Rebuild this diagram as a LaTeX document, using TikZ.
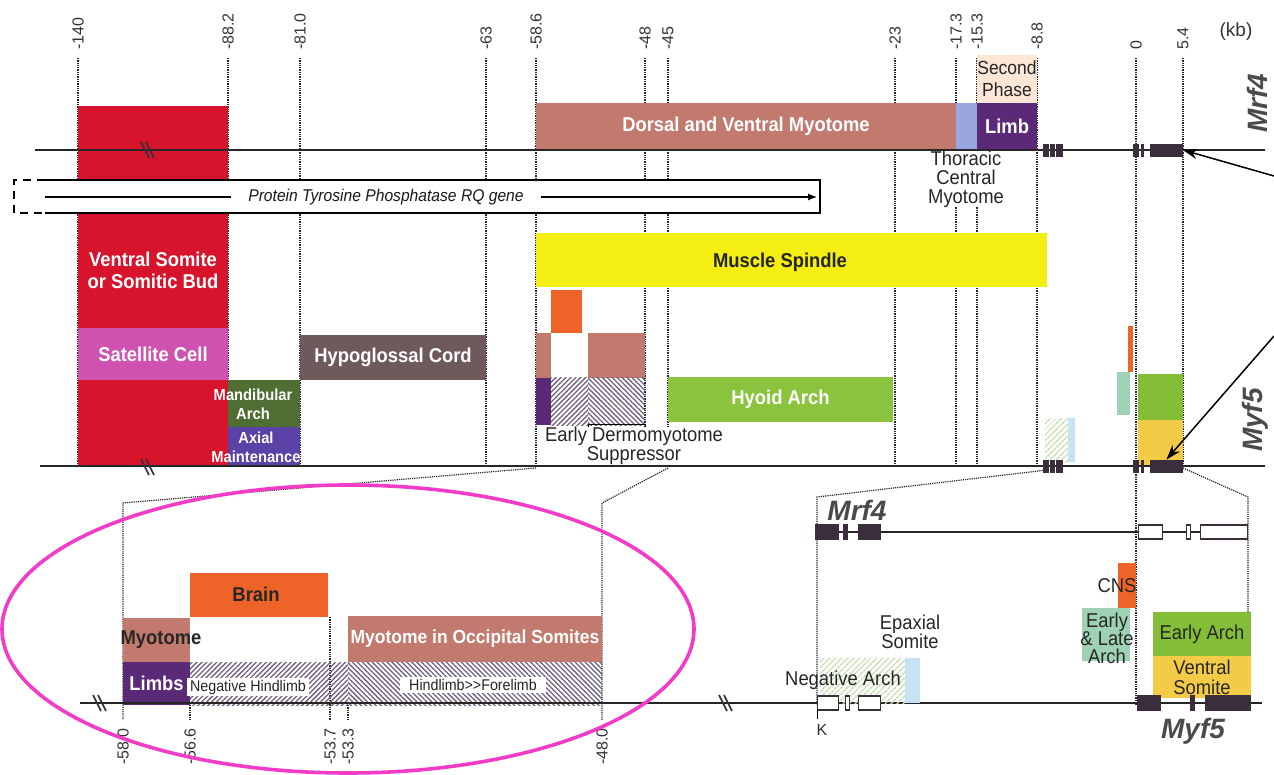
\documentclass[tikz,border=0pt]{standalone}
\usepackage{fontspec}
\setmainfont{Liberation Sans}
\newfontfamily\narrowfont[FakeStretch=0.92]{Liberation Sans}
\usetikzlibrary{arrows.meta, patterns.meta}

\definecolor{somred}{HTML}{D8142C}
\definecolor{satpink}{HTML}{D052B0}
\definecolor{mandgreen}{HTML}{4F6E33}
\definecolor{axblue}{HTML}{5A42A6}
\definecolor{hypogray}{HTML}{6E5A5A}
\definecolor{myobrown}{HTML}{C27A6E}
\definecolor{thorblue}{HTML}{9AA6E0}
\definecolor{limbpurple}{HTML}{5A2A78}
\definecolor{peach}{HTML}{FCE7D6}
\definecolor{spindle}{HTML}{F5EE12}
\definecolor{brainorange}{HTML}{EE6428}
\definecolor{hyoidgreen}{HTML}{8AC43E}
\definecolor{archteal}{HTML}{9FD2B4}
\definecolor{archgreen}{HTML}{84BE36}
\definecolor{ventyellow}{HTML}{F4CB46}
\definecolor{hatchgray}{HTML}{6E607C}
\definecolor{palegreen}{HTML}{BFE0A8}
\definecolor{paleblue}{HTML}{C6E3F4}
\definecolor{exondark}{HTML}{3A2E3C}
\definecolor{genegray}{HTML}{4A4A4A}
\definecolor{ringpink}{HTML}{F23CC8}

\tikzset{
  band/.style={inner sep=0pt, outer sep=0pt, anchor=north west, text=white, align=center,
    font=\narrowfont\bfseries\fontsize{20}{22}\selectfont},
  smallband/.style={inner sep=0pt, text=white, align=center,
    font=\narrowfont\bfseries\fontsize{16}{19}\selectfont},
  darkband/.style={inner sep=0pt, text=black!85, align=center,
    font=\narrowfont\bfseries\fontsize{20}{22}\selectfont},
  note/.style={inner sep=1pt, align=center, text=black!85,
    font=\narrowfont\fontsize{20}{19}\selectfont},
  tag/.style={fill=white, inner xsep=3pt, inner ysep=2pt, text=black!85,
    font=\narrowfont\fontsize{15.5}{16}\selectfont},
  kbmark/.style={rotate=90, inner sep=0pt, text=black!80, font=\fontsize{16}{16}\selectfont},
  kbline/.style={densely dotted, line width=1.3pt, black!85},
  zoomline/.style={densely dotted, line width=1.2pt, black!85},
  dna/.style={line width=1.6pt, black!85},
  exon/.style={fill=exondark, draw=exondark, line width=0.8pt, inner sep=0pt, anchor=west, minimum height=12pt},
  openexon/.style={fill=white, draw=exondark, line width=1.2pt, inner sep=0pt, anchor=west, minimum height=14pt},
  hatchne/.style={pattern={Lines[angle=45,distance=3.5pt,line width=1.3pt]}, pattern color=hatchgray},
  hatchnw/.style={pattern={Lines[angle=-45,distance=3.5pt,line width=1.3pt]}, pattern color=hatchgray},
  hatchpale/.style={pattern={Lines[angle=45,distance=4pt,line width=1.4pt]}, pattern color=palegreen},
  genename/.style={text=genegray, inner sep=0pt, font=\bfseries\itshape\fontsize{28}{28}\selectfont}
}

\newcommand{\breakmark}[2]{%
  \draw[line width=1.6pt, exondark] (#1-5,#2-8) -- (#1+3,#2+8);
  \draw[line width=1.6pt, exondark] (#1,#2-8) -- (#1+8,#2+8);}

\begin{document}
\begin{tikzpicture}[x=1pt, y=-1pt]
  \useasboundingbox (0,0) rectangle (1274,775);
  \fill[white] (0,0) rectangle (1274,775);

  % kb scale
  \foreach \xx/\kb in {78/-140, 228/-88.2, 300/-81.0, 486/-63, 536/-58.6, 645/-48, 668/-45, 895/-23, 956/-17.3, 977/-15.3, 1037/-8.8, 1183/5.4}{
    \node[kbmark, anchor=west] (top\xx) at (\xx,50) {\kb};
    \draw[kbline] (\xx,58) -- (\xx,467);
  }
  \node[kbmark, anchor=west] (top0) at (1136,50) {0};
  \draw[kbline] (1136,58) -- (1136,705);
  \node[text=black!80, font=\fontsize{19}{19}\selectfont] (kbunit) at (1236,32) {(kb)};

  % enhancer blocks, upstream half
  \node[band, fill=somred, minimum width=150pt, minimum height=74pt] (redtop) at (78,106) {};
  \node[band, fill=somred, minimum width=150pt, minimum height=115pt] (ventsom) at (78,213) {Ventral Somite\\or Somitic Bud};
  \node[band, fill=satpink, minimum width=150pt, minimum height=52pt] (satcell) at (78,328) {Satellite Cell};
  \node[band, fill=somred, minimum width=150pt, minimum height=87pt] (redlow) at (78,380) {};
  \node[band, fill=mandgreen, minimum width=72pt, minimum height=47pt] (mandbox) at (228,380) {};
  \node[band, fill=axblue, minimum width=72pt, minimum height=40pt] (axbox) at (228,427) {};
  \node[smallband] (mandtxt) at (253,404) {Mandibular\\Arch};
  \node[smallband] (axtxt) at (256,447) {Axial\\Maintenance};
  \node[band, fill=hypogray, minimum width=186pt, minimum height=45pt] (hypo) at (300,335) {Hypoglossal Cord};

  \node[band, fill=myobrown, minimum width=420pt, minimum height=47pt] (dvmyo) at (536,103) {Dorsal and Ventral Myotome};
  \node[band, fill=thorblue, minimum width=21pt, minimum height=47pt] (thorbox) at (956,103) {};
  \node[band, fill=limbpurple, minimum width=60pt, minimum height=47pt] (limb) at (977,103) {Limb};
  \node[band, fill=peach, text=black!85, font=\narrowfont\fontsize{19}{22}\selectfont, minimum width=60pt, minimum height=48pt] (second) at (977,55) {Second\\Phase};
  \node[note, fill=white, inner sep=0pt] (thoracic) at (966,179) {Thoracic\\Central\\Myotome};

  \node[band, fill=spindle, minimum width=511pt, minimum height=54pt] (spindlebox) at (536,233) {};
  \node[darkband] (spindletxt) at (780,262) {Muscle Spindle};
  \node[band, fill=brainorange, minimum width=31pt, minimum height=43pt] (orsq) at (551,290) {};
  \node[band, fill=myobrown, minimum width=15pt, minimum height=45pt] (brsqa) at (536,333) {};
  \node[band, fill=myobrown, minimum width=57pt, minimum height=45pt] (brsqb) at (588,333) {};
  \node[band, fill=limbpurple, minimum width=15pt, minimum height=47pt] (pusq) at (536,378) {};
  \fill[hatchne] (551,378) rectangle (588,425);
  \fill[hatchnw] (588,378) rectangle (645,425);
  \draw[line width=1pt] (588,432) -- (588,424) -- (645,424) -- (645,432);
  \draw[line width=1pt] (588,452) -- (588,467);
  \node[note, fill=white, inner sep=0pt] (edsupp) at (634,446) {Early Dermomyotome\\Suppressor};
  \node[band, fill=hyoidgreen, minimum width=225pt, minimum height=45pt] (hyoid) at (668,377) {Hyoid Arch};

  \fill[hatchpale] (1045,418) rectangle (1068,462);
  \fill[paleblue] (1068,418) rectangle (1075,462);
  \fill[brainorange] (1128,326) rectangle (1133,372);
  \fill[archteal] (1117,372) rectangle (1130,415);
  \node[band, fill=archgreen, minimum width=45pt, minimum height=46pt] (earlyup) at (1138,374) {};
  \node[band, fill=ventyellow, minimum width=45pt, minimum height=45pt] (ventup) at (1138,420) {};

  % Protein Tyrosine Phosphatase RQ gene
  \fill[white] (14,180) rectangle (820,213);
  \draw[line width=1.3pt] (45,180) -- (820,180) -- (820,213) -- (45,213);
  \draw[line width=1.3pt, dash pattern=on 8pt off 6pt] (45,180) -- (14,180) -- (14,213) -- (45,213);
  \node[inner xsep=17pt, text=black!90, font=\narrowfont\itshape\fontsize{17}{17}\selectfont] (ptp) at (386,197) {Protein Tyrosine Phosphatase RQ gene};
  \draw[line width=1.2pt] (45,197) -- (ptp.west);
  \draw[line width=1.2pt, -{Latex[length=9pt,width=7pt]}] (ptp.east) -- (817,197);

  % Mrf4 / Myf5 locus
  \draw[dna] (35,150) -- (1265,150);
  \draw[dna] (40,466) -- (1265,466);
  \breakmark{146}{150}
  \breakmark{146}{467}
  \node[exon, minimum width=5pt] (mrfc1) at (1043,150) {};
  \node[exon, minimum width=4pt] (mrfc2) at (1050,150) {};
  \node[exon, minimum width=6pt] (mrfc3) at (1056,150) {};
  \node[exon, minimum width=5pt] (mrfsm) at (1133,150) {};
  \node[exon, minimum width=2pt] (mrftk) at (1141,150) {};
  \node[exon, minimum width=32pt] (mrfbig) at (1150,150) {};
  \node[exon, minimum width=5pt] (myfc1) at (1043,466) {};
  \node[exon, minimum width=4pt] (myfc2) at (1050,466) {};
  \node[exon, minimum width=6pt] (myfc3) at (1056,466) {};
  \node[exon, minimum width=5pt] (myfsm) at (1133,466) {};
  \node[exon, minimum width=2pt] (myftk) at (1141,466) {};
  \node[exon, minimum width=32pt] (myfbig) at (1150,466) {};
  \node[genename, rotate=90, anchor=south] (mrfside) at (1268,103) {Mrf4};
  \node[genename, rotate=90, anchor=south] (myfside) at (1268,420) {Myf5};
  \coordinate (ptra) at (1274,176);
  \coordinate (ptrb) at (1274,336);
  \draw[line width=1.5pt, -{Stealth[length=15pt,width=10pt]}] (ptra) -- (mrfbig.east);
  \draw[line width=1.5pt, -{Stealth[length=15pt,width=10pt]}] (ptrb) -- (myfbig.north);

  % zoomed regions
  \coordinate (zla) at (536,468);
  \coordinate (zlb) at (668,468);
  \coordinate (zra) at (1047,470);
  \coordinate (zrb) at (1183,468);
  \draw[zoomline] (zla) -- (123,503) -- (123,720);
  \draw[zoomline] (zlb) -- (602,503) -- (602,720);
  \draw[zoomline] (zra) -- (817,497) -- (817,705);
  \draw[zoomline] (zrb) -- (1248,497) -- (1248,700);
  \draw[kbline] (190,705) -- (190,720);
  \draw[kbline] (330,617) -- (330,720);
  \draw[kbline] (348,705) -- (348,720);
  \foreach \xx/\kb in {123/-58.0, 190/-56.6, 330/-53.7, 348/-53.3, 602/-48.0}{
    \node[kbmark, anchor=east] (low\xx) at (\xx,728) {\kb};
  }

  % left close-up
  \node[band, fill=brainorange, minimum width=138pt, minimum height=44pt] (brainbox) at (190,573) {};
  \node[darkband] (braintxt) at (256,594) {Brain};
  \node[band, fill=myobrown, minimum width=67pt, minimum height=44pt] (myobox) at (123,618) {};
  \node[darkband] (myotxt) at (161,640) {Myotome};
  \node[band, fill=limbpurple, minimum width=67pt, minimum height=43pt] (limbs) at (123,662) {Limbs};
  \fill[hatchne] (190,662) rectangle (348,705);
  \fill[hatchnw] (348,662) rectangle (602,705);
  \node[band, fill=myobrown, minimum width=254pt, minimum height=46pt, font=\narrowfont\bfseries\fontsize{19}{22}\selectfont] (occip) at (348,616) {Myotome in Occipital Somites};
  \node[tag] (neghind) at (248,687) {Negative Hindlimb};
  \node[tag, inner xsep=9pt] (hindfore) at (473,685) {Hindlimb>\kern0pt>Forelimb};
  \draw[dna] (80,703) -- (602,703);
  \breakmark{98}{703}

  % right close-up
  \draw[dna] (602,703) -- (1262,703);
  \breakmark{724}{703}
  \draw[dna] (815,532) -- (1248,532);
  \node[genename] (mrfname) at (857,510) {Mrf4};
  \node[exon, minimum width=23pt, minimum height=15pt] (mrfa) at (815,532) {};
  \node[exon, minimum width=4pt, minimum height=15pt] (mrfb) at (843,532) {};
  \node[exon, minimum width=22pt, minimum height=15pt] (mrfc) at (858,532) {};
  \node[openexon, minimum width=24pt] (mrfd) at (1138,532) {};
  \node[openexon, minimum width=4pt] (mrfe) at (1186,532) {};
  \node[openexon, minimum width=47pt] (mrff) at (1200,532) {};

  \fill[hatchpale] (820,658) rectangle (905,703);
  \fill[paleblue] (905,658) rectangle (920,703);
  \node[note] (negarch) at (843,680) {Negative Arch};
  \node[note] (epax) at (910,632) {Epaxial\\Somite};
  \node[band, fill=brainorange, minimum width=18pt, minimum height=45pt] (cnsbox) at (1118,563) {};
  \node[note, inner sep=0pt] (cnstxt) at (1117,586) {CNS};
  \node[band, fill=archteal, minimum width=48pt, minimum height=53pt] (elbox) at (1082,608) {};
  \node[note, inner sep=0pt, font=\narrowfont\fontsize{20}{18}\selectfont] (eltxt) at (1107,638) {Early\\\& Late\\Arch};
  \node[band, fill=archgreen, minimum width=98pt, minimum height=44pt, text=black!85, font=\narrowfont\fontsize{20}{20}\selectfont] (earlyarch) at (1153,612) {Early Arch};
  \node[band, fill=ventyellow, minimum width=98pt, minimum height=42pt, text=black!85, font=\narrowfont\fontsize{20}{20}\selectfont] (ventsomite) at (1153,656) {Ventral\\Somite};

  \node[openexon, minimum width=21pt] (myfa) at (817,703) {};
  \node[openexon, minimum width=4pt] (myfb) at (845,703) {};
  \node[openexon, minimum width=22pt] (myfc) at (858,703) {};
  \node[exon, minimum width=23pt, minimum height=15pt] (myfd) at (1137,703) {};
  \node[exon, minimum width=4pt, minimum height=15pt] (myfe) at (1190,703) {};
  \node[exon, minimum width=45pt, minimum height=15pt] (myff) at (1205,703) {};
  \node[text=black!80, inner sep=0pt, font=\fontsize{16}{16}\selectfont] (klabel) at (822,730) {K};
  \draw[line width=1pt] (myfa.south west) -- ++(0,8);
  \node[genename] (myfname) at (1193,731) {Myf5};

  % highlight ring
  \draw[ringpink, line width=3.6pt] (348,629) ellipse [x radius=346pt, y radius=144pt];
\end{tikzpicture}
\end{document}
